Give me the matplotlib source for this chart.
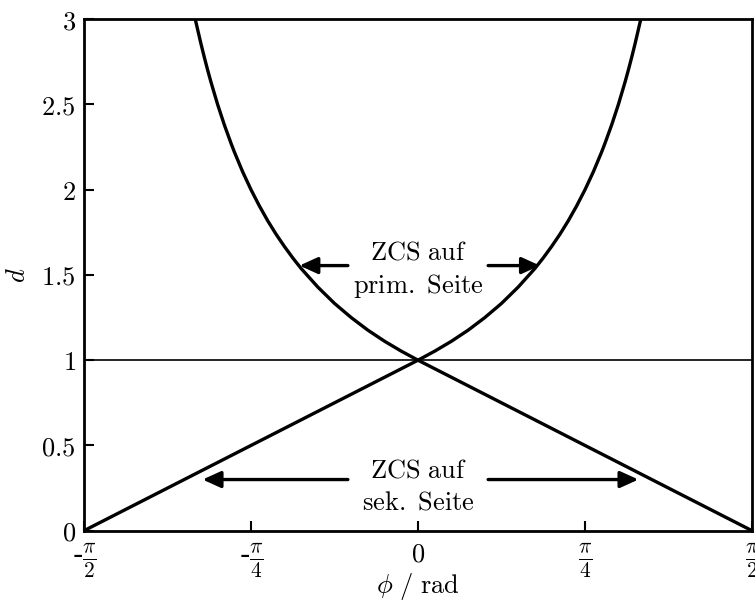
import numpy as np
import matplotlib
matplotlib.use("Agg")
import matplotlib.pyplot as plt

plt.rcParams['mathtext.fontset'] = 'cm'
plt.rcParams['font.family'] = 'DejaVu Serif'

# phase angle in units of pi/2 and the corresponding duty-cycle values
t_hyp = [0.0, 0.05, 0.10, 0.15, 0.20, 0.25, 0.30, 0.35, 0.375, 0.40, 0.425,
         0.45, 0.475, 0.50, 0.525, 0.55, 0.56, 0.58, 0.60, 0.62, 0.63, 0.64,
         0.65, 0.66, 0.667]
d_hyp = [1.0, 1.053, 1.111, 1.176, 1.25, 1.333, 1.429, 1.538, 1.6, 1.667, 1.739,
         1.818, 1.905, 2.0, 2.105, 2.222, 2.273, 2.381, 2.5, 2.632, 2.703, 2.778,
         2.857, 2.941, 3.0]
t_lin = [-1.0, 0.0, 1.0]
d_lin = [0.0, 1.0, 0.0]

xtick_vals = [-1.0, -0.5, 0.0, 0.5, 1.0]
xtick_labels = [r'-$\frac{\pi}{2}$', r'-$\frac{\pi}{4}$', r'$0$',
                r'$\frac{\pi}{4}$', r'$\frac{\pi}{2}$']
ytick_vals = [0, 0.5, 1, 1.5, 2, 2.5, 3]
ytick_labels = [r'$0$', r'$0.5$', r'$1$', r'$1.5$', r'$2$', r'$2.5$', r'$3$']

half_pi = np.pi / 2
phi_hyp = np.array(t_hyp) * half_pi
phi_lin = np.array(t_lin) * half_pi

fig = plt.figure(figsize=(7.55, 6.01), dpi=100)
ax = fig.add_axes([0.1113, 0.117, 0.8847, 0.851])

lw = 2.4
ax.plot(phi_hyp, d_hyp, color='black', lw=lw, solid_capstyle='butt')
ax.plot(-phi_hyp, d_hyp, color='black', lw=lw, solid_capstyle='butt')
ax.plot(phi_lin, d_lin, color='black', lw=lw, solid_joinstyle='miter')
ax.axhline(1.0, color='black', lw=1.2)

ax.set_xlim(-half_pi, half_pi)
ax.set_ylim(0, 3)
ax.set_xticks(np.array(xtick_vals) * half_pi)
ax.set_xticklabels(xtick_labels, fontsize=22)
for lab in ax.get_xticklabels():
    if lab.get_text() == r'$0$':
        lab.set_fontsize(19)
ax.set_yticks(ytick_vals)
ax.set_yticklabels(ytick_labels, fontsize=19)
ax.tick_params(direction='in', length=7, width=1.5)
ax.tick_params(axis='x', pad=8)
ax.tick_params(axis='y', pad=6)
for s in ax.spines.values():
    s.set_linewidth(2.0)

ax.set_xlabel(r'$\phi\ /\ \mathrm{rad}$', fontsize=19, labelpad=-7)
ax.set_ylabel(r'$d$', fontsize=19, labelpad=8)

arrow_kw = dict(arrowstyle='-|>,head_length=1.1,head_width=0.5',
                color='black', lw=2.4, shrinkA=0, shrinkB=0)

# primary side annotation
ax.text(0, 1.53, r'$\mathrm{ZCS\ auf}$' + '\n' + r'$\mathrm{prim.\ Seite}$',
        ha='center', va='center', fontsize=19, linespacing=1.35)
ax.annotate('', xy=(-0.355 * half_pi, 1.555), xytext=(-0.21 * half_pi, 1.555),
            arrowprops=arrow_kw)
ax.annotate('', xy=(0.365 * half_pi, 1.555), xytext=(0.21 * half_pi, 1.555),
            arrowprops=arrow_kw)

# secondary side annotation
ax.text(0, 0.265, r'$\mathrm{ZCS\ auf}$' + '\n' + r'$\mathrm{sek.\ Seite}$',
        ha='center', va='center', fontsize=19, linespacing=1.35)
ax.annotate('', xy=(-0.645 * half_pi, 0.3), xytext=(-0.21 * half_pi, 0.3),
            arrowprops=arrow_kw)
ax.annotate('', xy=(0.66 * half_pi, 0.3), xytext=(0.21 * half_pi, 0.3),
            arrowprops=arrow_kw)

fig.savefig('out.png', dpi=100)
